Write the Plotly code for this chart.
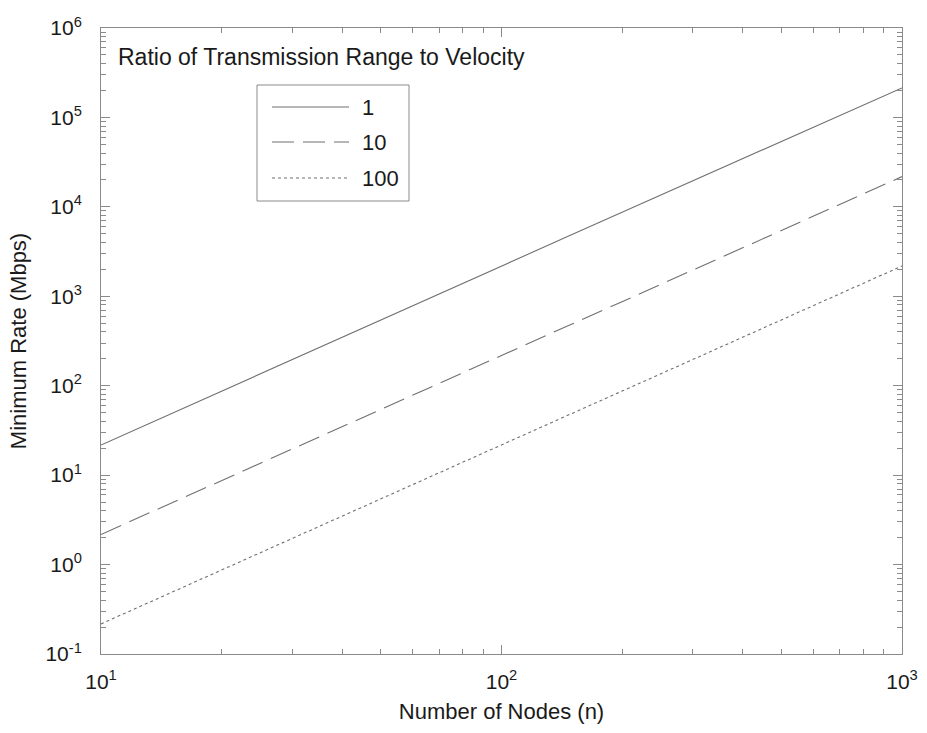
import plotly.graph_objects as go

# ---- data ----
n_nodes = [10, 15, 20, 30, 50, 70, 100, 125, 150, 200, 300, 500, 700, 960, 1000]
rate_ratio_1 = [21.7, 49, 87, 195, 540, 1060, 2180, 3400, 4900, 8700, 19500, 54000, 107000, 200000, 214000]
rate_ratio_10 = [2.17, 4.9, 8.7, 19.5, 54, 106, 218, 340, 490, 870, 1950, 5400, 10700, 20100, 21800]
rate_ratio_100 = [0.217, 0.49, 0.87, 1.95, 5.4, 10.6, 21.8, 34, 49, 87, 195, 540, 1070, 2010, 2180]
series_names = ["1", "10", "100"]
legend_title = "Ratio of Transmission Range to Velocity"

x_tickvals = [10, 100, 1000]
x_ticktext = ["10<sup>1</sup>", "10<sup>2</sup>", "10<sup>3</sup>"]
y_tickvals = [0.1, 1, 10, 100, 1000, 10000, 100000, 1000000]
y_ticktext = ["10<sup>-1</sup>", "10<sup>0</sup>", "10<sup>1</sup>", "10<sup>2</sup>",
              "10<sup>3</sup>", "10<sup>4</sup>", "10<sup>5</sup>", "10<sup>6</sup>"]

# ---- styling ----
FONT = "Liberation Sans, Arial, sans-serif"
TEXT_COLOR = "#1a1a1a"
LINE_COLOR = "#707070"
AXIS_COLOR = "#8a8a8a"
dashes = ["solid", "22px,9px", "3px,3px"]

fig = go.Figure()
for vals, name, dash in zip([rate_ratio_1, rate_ratio_10, rate_ratio_100], series_names, dashes):
    fig.add_trace(go.Scatter(x=n_nodes, y=vals, mode="lines", name=name,
                             line=dict(color=LINE_COLOR, width=1.1, dash=dash),
                             showlegend=False))

W, H = 927, 733
ml, mr, mt, mb = 101, 25, 28, 79
pw, ph = W - ml - mr, H - mt - mb

def px(xp):
    return (xp - ml) / pw

def py(yp):
    return (H - mb - yp) / ph

# manual legend (box, samples, labels)
shapes = [dict(type="rect", xref="paper", yref="paper",
               x0=px(257), x1=px(409), y0=py(201), y1=py(85),
               line=dict(color=AXIS_COLOR, width=1), fillcolor="white", layer="above")]
annotations = [dict(text=legend_title, xref="paper", yref="paper", x=px(116), y=py(57),
                    xanchor="left", yanchor="middle", showarrow=False,
                    font=dict(family=FONT, size=23, color=TEXT_COLOR))]
row_y = [107, 142, 178]
for name, dash, ry in zip(series_names, dashes, row_y):
    shapes.append(dict(type="line", xref="paper", yref="paper",
                       x0=px(272), x1=px(349), y0=py(ry), y1=py(ry),
                       line=dict(color=LINE_COLOR, width=1.1, dash=dash), layer="above"))
    annotations.append(dict(text=name, xref="paper", yref="paper", x=px(360), y=py(ry),
                            xanchor="left", yanchor="middle", showarrow=False,
                            font=dict(family=FONT, size=22, color=TEXT_COLOR)))

axis_common = dict(
    automargin=False,
    showgrid=False, zeroline=False, showline=True, linecolor=AXIS_COLOR, linewidth=1,
    mirror="allticks", ticks="inside", ticklen=9, tickcolor=AXIS_COLOR, tickwidth=1,
    tickfont=dict(family=FONT, size=21, color=TEXT_COLOR),
    minor=dict(ticks="inside", ticklen=5, tickcolor=AXIS_COLOR, tickwidth=1, dtick="D1", showgrid=False),
)

fig.update_layout(
    width=W, height=H,
    margin=dict(l=ml, r=mr, t=mt, b=mb),
    paper_bgcolor="white", plot_bgcolor="white",
    font=dict(family=FONT, color=TEXT_COLOR),
    showlegend=False,
    shapes=shapes, annotations=annotations,
    xaxis=dict(type="log", range=[1, 3], tickvals=x_tickvals, ticktext=x_ticktext,
               ticklabelstandoff=9,
               title=dict(text="Number of Nodes (n)", font=dict(family=FONT, size=22, color=TEXT_COLOR), standoff=11),
               **axis_common),
    yaxis=dict(type="log", range=[-1, 6], tickvals=y_tickvals, ticktext=y_ticktext,
               ticklabelstandoff=14,
               title=dict(text="Minimum Rate (Mbps)", font=dict(family=FONT, size=22, color=TEXT_COLOR), standoff=12),
               **axis_common),
)

fig.write_html(
    "out.html",
    config={"displayModeBar": False},
    post_script="document.body.style.margin='0';document.body.style.overflow='hidden';",
)
